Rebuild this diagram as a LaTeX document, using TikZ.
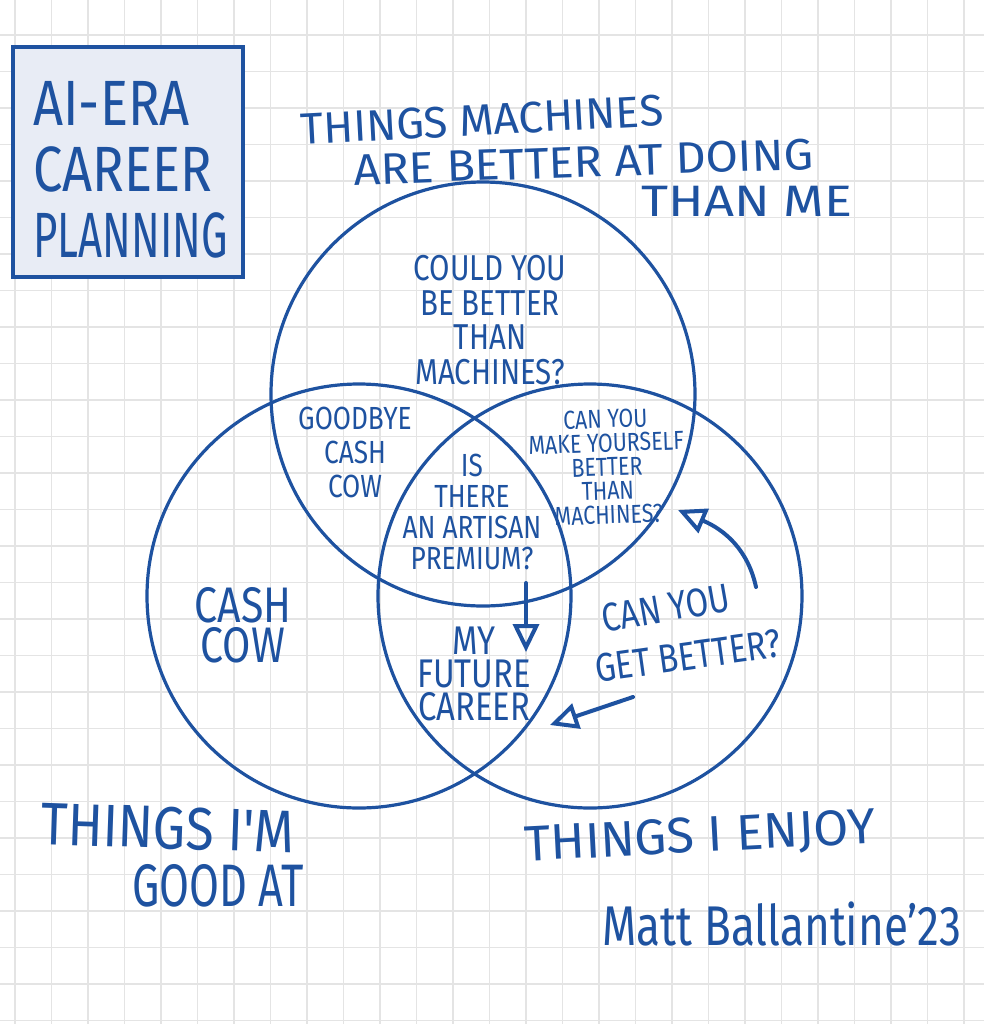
\documentclass[tikz,border=0pt]{standalone}
\usepackage{fontspec}
\newfontfamily\handfont{Fira Sans}[FakeStretch=0.82]
\usetikzlibrary{arrows.meta}
\definecolor{ink}{RGB}{30,82,160}
\definecolor{paper}{RGB}{232,236,245}
\definecolor{gridgray}{RGB}{228,228,228}
\newcommand{\hand}[2]{\handfont\fontsize{#1pt}{#2pt}\selectfont}
\tikzset{
  gridline/.style={gridgray,line width=0.8pt},
  venn/.style={ink,line width=1.6pt},
  pen/.style={ink,line width=2pt,line cap=round,-{Triangle[open,length=14pt,width=13pt]}},
  label/.style={text=ink,align=center,inner sep=0pt},
}

\begin{document}
\begin{tikzpicture}[x=0.5pt,y=-0.5pt]
    \useasboundingbox (0,0) rectangle (984,1024);
    % squared paper
    \foreach \k in {0,...,26}
      \draw[gridline] ({15+36.5*\k},0) -- ++(0,1024);
    \foreach \k in {0,...,27}
      \draw[gridline] (0,{35+36.5*\k}) -- ++(984,0);
    % title box
    \draw[ink,line width=2pt,fill=paper] (13,47) rectangle (243,277);
    \node[label,align=left,anchor=west,font={\hand{32}{33}}] (title) at (33,170) {AI-ERA\\CAREER\\\scalebox{0.8}[1]{PLANNING}};
    % the three circles
    \draw[venn] (483,394) circle [radius=212];
    \draw[venn] (359,596) circle [radius=212];
    \draw[venn] (590,596) circle [radius=212];
    % circle names
    \node[label,rotate=3,xscale=1.22,font={\hand{22}{22}}] (machines1) at (482,120) {THINGS MACHINES};
    \node[label,rotate=2,xscale=1.3,font={\hand{22}{22}}] (machines2) at (584,162) {ARE BETTER AT DOING};
    \node[label,xscale=1.45,font={\hand{22}{22}}] (machines3) at (747,201) {THAN ME};
    \node[label,rotate=-2,xscale=1.05,font={\hand{30}{30}}] (goodat1) at (168,828) {THINGS I'M};
    \node[label,xscale=0.88,font={\hand{30}{30}}] (goodat2) at (218,886) {GOOD AT};
    \node[label,rotate=3,xscale=1.24,font={\hand{25}{25}}] (enjoy) at (700,838) {THINGS I ENJOY};
    % regions
    \node[label,font={\hand{18}{17.4}}] (couldyou) at (490,320) {COULD YOU\\BE BETTER\\THAN\\MACHINES?};
    \node[label,font={\hand{16}{17}}] (goodbye) at (355,452) {GOODBYE\\CASH\\COW};
    \node[label,rotate=2,font={\hand{13}{12}}] (makeyourself) at (607,467) {CAN YOU\\MAKE YOURSELF\\BETTER\\THAN\\MACHINES?};
    \node[label,font={\hand{16}{15.5}}] (artisan) at (472,512) {IS\\THERE\\AN ARTISAN\\PREMIUM?};
    \node[label,font={\hand{25}{20}}] (cashcow) at (243,625) {CASH\\COW};
    \node[label,font={\hand{20}{16.5}}] (future) at (474,674) {MY\\FUTURE\\CAREER};
    \node[label,rotate=10,font={\hand{20}{20}}] (canyou) at (666,608) {CAN YOU};
    \node[label,rotate=8,font={\hand{20}{20}}] (getbetter) at (688,656) {GET BETTER?};
    % signature
    \node[label,anchor=base,xscale=0.96,font={\hand{28}{28}}] (signature) at (782,945) {Matt Ballantine’23};
    % arrows
    \coordinate (dropstart) at (526,583);
    \coordinate (dropend) at (526,652);
    \coordinate (pushstart) at (633,697);
    \coordinate (pushend) at (550,725);
    \coordinate (liftstart) at (756,587);
    \coordinate (liftend) at (678,510);
    \draw[pen] (dropstart) -- (dropend);
    \draw[pen] (pushstart) -- (pushend);
    \draw[pen] (liftstart) .. controls (748,550) and (725,530) .. (liftend);
\end{tikzpicture}
\end{document}
